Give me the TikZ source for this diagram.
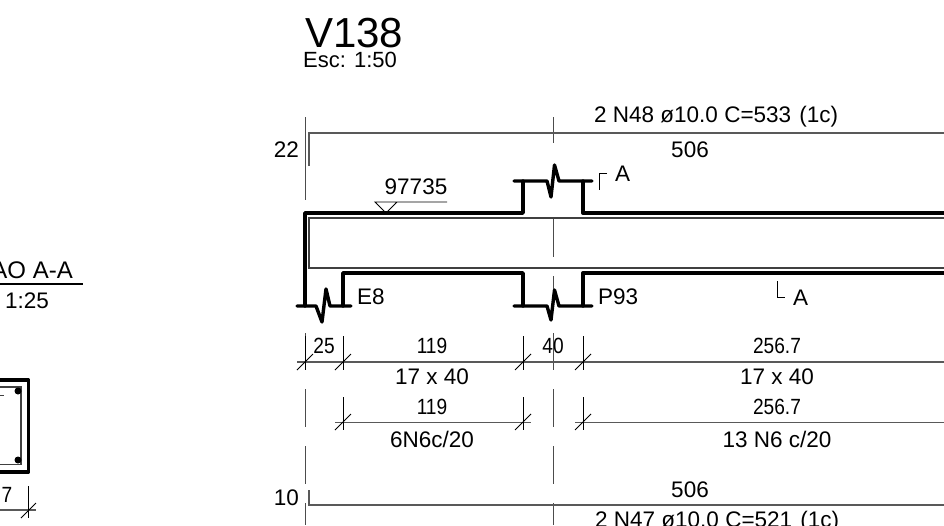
\documentclass[tikz,border=0pt]{standalone}
\usepackage{fontspec}
\setmainfont{Liberation Sans}
\newfontfamily\narrowfont[FakeStretch=0.87]{Liberation Sans}
\tikzset{
  rebar/.style={line width=3.4pt, line join=round, line cap=round, black},
  thinline/.style={line width=1.1pt, black!75},
  dimline/.style={line width=1.3pt, black!65},
  axisline/.style={line width=1pt, black!70},
  tickline/.style={line width=0.9pt, black},
  lbl/.style={inner sep=0pt, font=\fontsize{22.5}{22.5}\selectfont},
  dimlbl/.style={inner sep=0pt, font=\narrowfont\fontsize{22}{22}\selectfont},
}
\begin{document}
\begin{tikzpicture}[x=1pt,y=-1pt]
  \useasboundingbox (0,0) rectangle (944,525);
  % Title
  \node[lbl, font=\fontsize{42}{42}\selectfont, anchor=west] (title) at (305,33) {V138};
  \node[lbl, font=\fontsize{22}{22}\selectfont, anchor=west] (scale) at (303,60) {Esc: 1:50};

  % Axis lines
  \foreach \ax in {305,553} {
    \draw[axisline] (\ax,117) -- (\ax,143);
    \draw[axisline] (\ax,333) -- (\ax,370);
    \draw[axisline] (\ax,389) -- (\ax,427);
    \draw[axisline] (\ax,446) -- (\ax,484);
    \draw[axisline] (\ax,503) -- (\ax,525);
  }
  \draw[axisline] (305,143) -- (305,200);
  \draw[axisline] (553,218) -- (553,257);
  \draw[axisline] (553,276) -- (553,290);

  % Beam faces
  \draw[thinline] (944,218) -- (309,218) -- (309,268) -- (944,268);
  \draw[rebar] (305,306) -- (305,213) -- (523,213) -- (523,181);
  \draw[rebar] (514,181) -- (547,181) -- (551,197) -- (554.5,165) -- (559,181) -- (592,181);
  \draw[rebar] (583,181) -- (583,213) -- (944,213);
  \draw[rebar] (297,306) -- (316,306) -- (322,322) -- (326,289) -- (330,306) -- (351,306);
  \draw[rebar] (343,306) -- (343,273) -- (523,273) -- (523,306);
  \draw[rebar] (514,306) -- (547,306) -- (551,320) -- (554.5,290) -- (559,306) -- (592,306);
  \draw[rebar] (583,306) -- (583,273) -- (944,273);

  % Top bars
  \draw[dimline] (309,166) -- (309,133) -- (944,133);
  \node[lbl, anchor=east] (topgap) at (299,150) {22};
  \node[lbl, anchor=west] (topbars) at (594,117) {2 N48 ø10.0 C=533\hspace{2pt} (1c)};
  \node[lbl, anchor=center] (toplen) at (690,150) {506};

  % Level mark
  \draw[tickline] (447,202) -- (375,202) -- (386,213) -- (397,202);
  \node[lbl, anchor=center] (level) at (416,187) {97735};

  % Support names and section marks
  \node[lbl, anchor=west] (supa) at (357,297) {E8};
  \node[lbl, anchor=west] (supb) at (598,297) {P93};
  \draw[tickline] (607,173) -- (599,173) -- (599,190);
  \node[lbl, anchor=west] (cuta) at (615,174) {A};
  \draw[tickline] (777,281) -- (777,297) -- (785,297);
  \node[lbl, anchor=west] (cutb) at (793,298) {A};

  % Dimension lines
  \draw[dimline] (297,362) -- (944,362);
  \foreach \tx in {305,343,523,583} {
    \draw[tickline] (\tx,336) -- (\tx,370);
    \draw[tickline] (\tx-8,370) -- (\tx+8,354);
  }
  \draw[dimline] (335,422.5) -- (531,422.5);
  \draw[dimline] (575,422.5) -- (944,422.5);
  \foreach \tx in {343,523,583} {
    \draw[tickline] (\tx,397) -- (\tx,430);
    \draw[tickline] (\tx-8,430) -- (\tx+8,414);
  }
  \node[dimlbl] (dima) at (324,346) {25};
  \node[dimlbl] (dimb) at (432,346) {119};
  \node[dimlbl] (dimc) at (553,346) {40};
  \node[dimlbl] (dimd) at (777,346) {256.7};
  \node[lbl] (spana) at (432,377) {17 x 40};
  \node[lbl] (spanb) at (777,377) {17 x 40};
  \node[dimlbl] (dime) at (432,407) {119};
  \node[dimlbl] (dimf) at (777,407) {256.7};
  \node[lbl] (stira) at (432,439) {6N6c/20};
  \node[lbl] (stirb) at (777,439) {13 N6 c/20};

  % Bottom bars
  \draw[dimline] (309,490) -- (309,505) -- (944,505);
  \node[lbl, anchor=east] (botgap) at (299,498) {10};
  \node[lbl] (botlen) at (690,490) {506};
  \node[lbl, anchor=west] (botbars) at (595,522) {2 N47 ø10.0 C=521\hspace{2pt} (1c)};

  % Section
  \node[lbl, font=\fontsize{24}{24}\selectfont, anchor=east] (secname) at (73,270) {AO A-A};
  \draw[line width=1.5pt] (0,284) -- (83,284);
  \node[lbl] (secscale) at (27,301) {1:25};
  \draw[line width=3.4pt, line join=round] (0,380) -- (28.5,380) -- (28.5,472) -- (0,472);
  \draw[line width=1.6pt, black!75] (0,387) -- (21,387) -- (21,464.5) -- (0,464.5);
  \draw[line width=1pt, black!75] (0,395) -- (4,395);
  \fill (18,391) circle (3.5);
  \fill (18,460) circle (3.5);
  \node[dimlbl] (secdim) at (7,495) {7};
  \draw[dimline] (0,510) -- (36,510);
  \draw[tickline] (28.5,486) -- (28.5,518);
  \draw[tickline] (21,518) -- (36,503);
\end{tikzpicture}
\end{document}
